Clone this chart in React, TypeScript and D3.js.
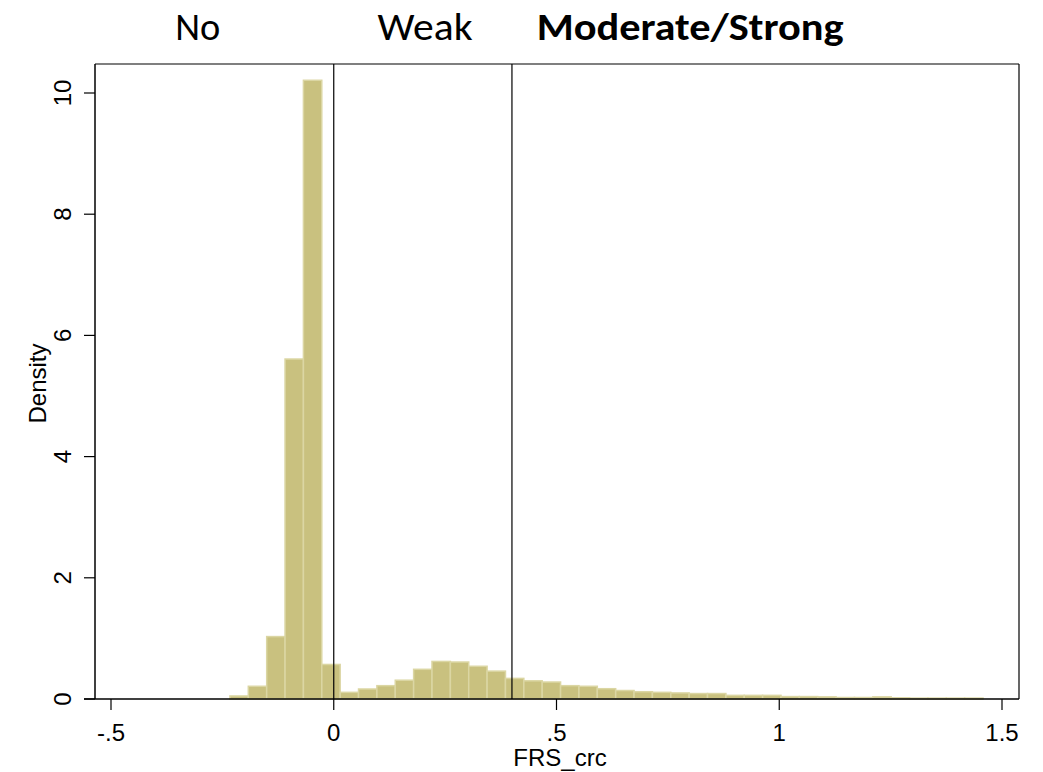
import React from "react";
import * as d3 from "d3";

// histogram of FRS_crc (density per bin)
const binStart = -0.233;
const binWidth = 0.04123;
const densities = [
  0.05, 0.21, 1.03, 5.61, 10.21, 0.57, 0.11, 0.165, 0.22, 0.31,
  0.49, 0.62, 0.61, 0.54, 0.46, 0.34, 0.3, 0.28, 0.22, 0.21,
  0.17, 0.14, 0.12, 0.11, 0.1, 0.09, 0.09, 0.06, 0.06, 0.06,
  0.04, 0.04, 0.035, 0.025, 0.025, 0.035, 0.02, 0.015, 0.015, 0.015,
  0.015,
];
const xTicks = [-0.5, 0, 0.5, 1, 1.5];
const yTicks = [0, 2, 4, 6, 8, 10];
const cutoffs = [0, 0.4];
const groupLabels = [
  { text: "No", center: -0.305, width: 45, bold: false },
  { text: "Weak", center: 0.205, width: 95, bold: false },
  { text: "Moderate/Strong", center: 0.8, width: 307, bold: true },
];

const W = 1043;
const H = 772;
const frame = { left: 95, right: 1019, top: 64, bottom: 699 };

const fmtX = (v: number) => {
  if (v === 0) return "0";
  const s = String(v);
  return s.replace(/^(-?)0\./, "$1.");
};

export default function App() {
  const x = d3.scaleLinear().domain([-0.5, 1.5]).range([111, 1002]);
  const y = d3.scaleLinear().domain([0, 10]).range([frame.bottom, 93]);

  const bars = densities.map((d, i) => {
    const x0 = binStart + i * binWidth;
    return { x0, x1: x0 + binWidth, d };
  });

  const tickFont = "'Liberation Sans', Arial, sans-serif";

  return (
    <svg
      width={W}
      height={H}
      style={{ position: "absolute", left: 0, top: 0, background: "#fff" }}
    >
      {/* bars */}
      <g>
        {bars.map((b, i) => (
          <rect
            key={i}
            x={x(b.x0)}
            y={y(b.d)}
            width={x(b.x1) - x(b.x0)}
            height={frame.bottom - y(b.d)}
            fill="#c9c17f"
            stroke="#dbd6a3"
            strokeWidth={1.5}
          />
        ))}
      </g>

      {/* cutoff lines */}
      {cutoffs.map((c) => (
        <line
          key={c}
          x1={x(c)}
          x2={x(c)}
          y1={frame.top}
          y2={frame.bottom}
          stroke="#000"
          strokeWidth={1.2}
        />
      ))}

      {/* frame */}
      <line x1={frame.left} x2={frame.right} y1={frame.top} y2={frame.top} stroke="#000" strokeWidth={1.2} />
      <line x1={frame.right} x2={frame.right} y1={frame.top} y2={frame.bottom} stroke="#000" strokeWidth={1.2} />
      <line x1={frame.left} x2={frame.left} y1={frame.top} y2={frame.bottom} stroke="#000" strokeWidth={1.5} />
      <line x1={84} x2={frame.right} y1={frame.bottom} y2={frame.bottom} stroke="#000" strokeWidth={1.5} />

      {/* x axis */}
      {xTicks.map((t) => (
        <g key={t} transform={`translate(${x(t)},0)`}>
          <line y1={frame.bottom} y2={frame.bottom + 11} stroke="#000" strokeWidth={1.2} />
          <text
            y={741}
            textAnchor="middle"
            fontFamily={tickFont}
            fontSize={24}
            fill="#000"
          >
            {fmtX(t)}
          </text>
        </g>
      ))}
      <text x={(frame.left + frame.right) / 2 + 3} y={766} textAnchor="middle" fontFamily={tickFont} fontSize={24} fill="#000">
        FRS_crc
      </text>

      {/* y axis */}
      {yTicks.map((t) => (
        <g key={t} transform={`translate(0,${y(t)})`}>
          <line x1={frame.left} x2={frame.left - 11} stroke="#000" strokeWidth={1.2} />
          <text
            transform="translate(71,0) rotate(-90)"
            textAnchor="middle"
            fontFamily={tickFont}
            fontSize={24}
            fill="#000"
          >
            {t}
          </text>
        </g>
      ))}
      <text
        transform={`translate(46,${(frame.top + frame.bottom) / 2 + 2}) rotate(-90)`}
        textAnchor="middle"
        fontFamily={tickFont}
        fontSize={24}
        fill="#000"
      >
        Density
      </text>

      {/* group labels above */}
      {groupLabels.map((g) => (
        <text
          key={g.text}
          x={x(g.center)}
          y={40}
          textAnchor="middle"
          fontFamily="Carlito, Calibri, 'Open Sans', sans-serif"
          fontSize={38}
          fontWeight={g.bold ? "bold" : "normal"}
          textLength={g.width}
          lengthAdjust="spacingAndGlyphs"
          fill="#000"
        >
          {g.text}
        </text>
      ))}
    </svg>
  );
}
